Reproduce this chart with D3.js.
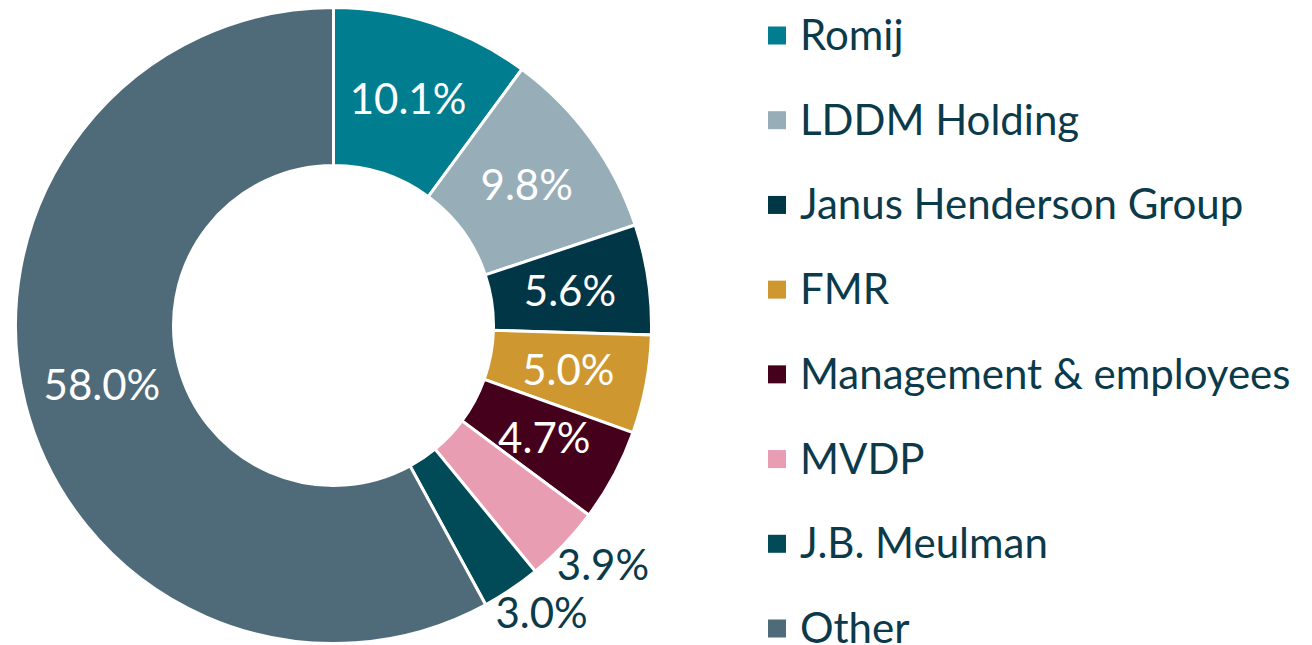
<!DOCTYPE html>
<html>
<head>
<meta charset="utf-8">
<script src="https://cdn.jsdelivr.net/npm/d3@7"></script>
<style>
html,body{margin:0;padding:0;background:#fff;}
svg{display:block;font-family:Lato,"Open Sans",sans-serif;}
</style>
</head>
<body>
<svg id="chart" width="1312" height="645"></svg>
<script>
const categories = ["Romij","LDDM Holding","Janus Henderson Group","FMR","Management & employees","MVDP","J.B. Meulman","Other"];
const values = [10.1, 9.8, 5.6, 5.0, 4.7, 3.9, 3.0, 58.0];
const colors = ["#007e90","#97aeb9","#013647","#cf9730","#45001b","#e99db3","#004b57","#4f6b7a"];
const outsideLabels = ["MVDP","J.B. Meulman"];

const data = categories.map((c,i)=>({name:c, value:values[i], color:colors[i]}));
const svg = d3.select("#chart");
const cx = 333.5, cy = 325.5, rOuter = 318, rInner = 160;
const fontSize = 42;

const pie = d3.pie().value(d=>d.value).sort(null);
const arcs = pie(data);
const arc = d3.arc().innerRadius(rInner).outerRadius(rOuter);

const g = svg.append("g").attr("transform",`translate(${cx},${cy})`);
g.selectAll("path").data(arcs).join("path")
  .attr("d",arc)
  .attr("fill",d=>d.data.color)
  .attr("stroke","#fff")
  .attr("stroke-width",3)
  .attr("stroke-linejoin","miter");

const labels = g.selectAll("text").data(arcs).join("text")
  .attr("text-anchor","middle")
  .attr("dy","0.36em")
  .attr("font-size",fontSize)
  .attr("fill",d=>outsideLabels.includes(d.data.name) ? "#0b3a4a" : "#ffffff")
  .text(d=>d.data.value.toFixed(1)+"%");

labels.attr("transform",function(d){
  let p;
  if (outsideLabels.includes(d.data.name)) {
    const a = (d.startAngle + d.endAngle)/2;
    const dx = Math.sin(a), dy = -Math.cos(a);
    const w = this.getComputedTextLength(), h = fontSize;
    const pad = 8;
    p = [dx*rOuter + dx*(w/2+pad), dy*rOuter + dy*(h/2+pad)];
  } else {
    p = arc.centroid(d);
  }
  return `translate(${p[0]},${p[1]})`;
});

const y = d3.scalePoint().domain(categories).range([35.5, 628.5]);
const lg = svg.append("g");
const rows = lg.selectAll("g").data(data).join("g")
  .attr("transform",d=>`translate(768,${y(d.name)})`);
rows.append("rect").attr("x",0).attr("y",-9).attr("width",18).attr("height",18).attr("fill",d=>d.color);
rows.append("text").attr("x",32).attr("dy",14.5).attr("font-size",fontSize).attr("fill","#0b3a4a").text(d=>d.name);
</script>
</body>
</html>
